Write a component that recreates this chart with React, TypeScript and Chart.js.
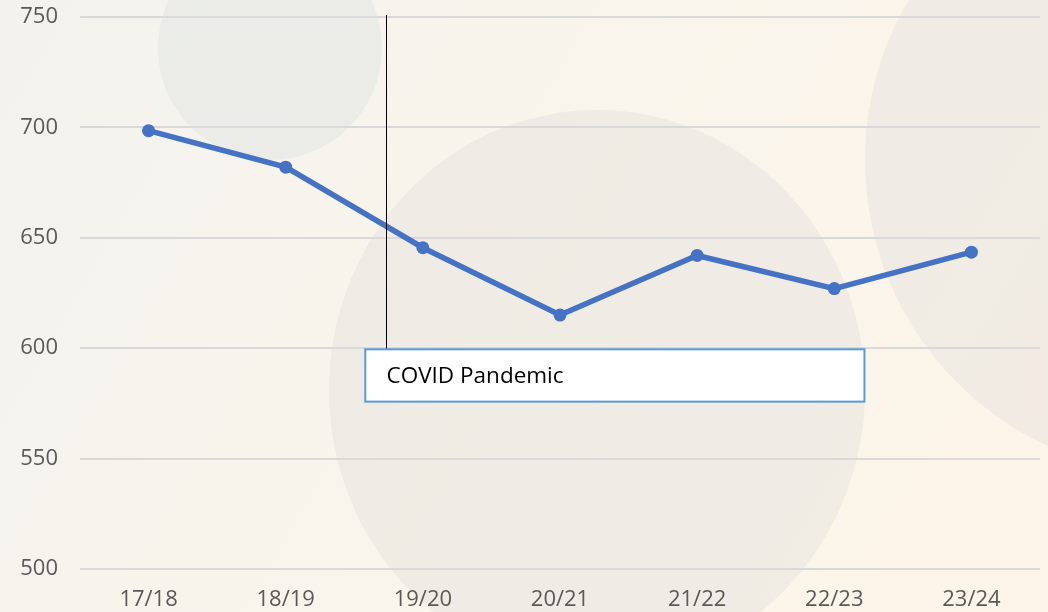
import React, { useEffect, useRef } from "react";
import { Chart, registerables } from "chart.js";

Chart.register(...registerables);

const categories = ["17/18", "18/19", "19/20", "20/21", "21/22", "22/23", "23/24"];
const values = [698.5, 682, 645.5, 615, 642, 627, 643.5];
const yTicks = [500, 550, 600, 650, 700, 750];
const annotationText = "COVID Pandemic";
const annotationIndex = 1.73;
const boxRange = [1.58, 5.22];
const boxValues = [599.5, 575.8];

const FONT = "'Open Sans', 'Noto Sans', sans-serif";

const backgroundPlugin = {
  id: "bgDecor",
  beforeDraw(chart: any) {
    const { ctx, width, height } = chart;
    ctx.save();
    const g = ctx.createLinearGradient(0, 0, width, height);
    g.addColorStop(0, "#f3f2ee");
    g.addColorStop(0.5, "#f9f5ec");
    g.addColorStop(1, "#fdf4e8");
    ctx.fillStyle = g;
    ctx.fillRect(0, 0, width, height);
    ctx.fillStyle = "rgba(225,230,225,0.55)";
    ctx.beginPath();
    ctx.arc(270, 48, 112, 0, Math.PI * 2);
    ctx.fill();
    ctx.fillStyle = "rgba(232,228,222,0.55)";
    ctx.beginPath();
    ctx.ellipse(597, 390, 268, 280, 0, 0, Math.PI * 2);
    ctx.fill();
    ctx.beginPath();
    ctx.arc(1180, 160, 315, 0, Math.PI * 2);
    ctx.fill();
    ctx.restore();
  },
};

const annotationPlugin = {
  id: "covidNote",
  afterDatasetsDraw(chart: any) {
    const { ctx, scales } = chart;
    const x = scales.x, y = scales.y;
    const lx = Math.round(x.getPixelForValue(annotationIndex)) + 0.5;
    const bx0 = x.getPixelForValue(boxRange[0]);
    const bx1 = x.getPixelForValue(boxRange[1]);
    const by0 = y.getPixelForValue(boxValues[0]);
    const by1 = y.getPixelForValue(boxValues[1]);
    ctx.save();
    ctx.strokeStyle = "#000000";
    ctx.lineWidth = 1;
    ctx.beginPath();
    ctx.moveTo(lx, chart.chartArea.top - 2);
    ctx.lineTo(lx, by0);
    ctx.stroke();
    ctx.fillStyle = "#ffffff";
    ctx.fillRect(bx0, by0, bx1 - bx0, by1 - by0);
    ctx.strokeStyle = "#5b9bd5";
    ctx.lineWidth = 2;
    ctx.strokeRect(bx0, by0, bx1 - bx0, by1 - by0);
    ctx.fillStyle = "#000000";
    ctx.font = `22.5px ${FONT}`;
    ctx.textBaseline = "middle";
    ctx.textAlign = "left";
    ctx.fillText(annotationText, lx, (by0 + by1) / 2 + 1);
    ctx.restore();
  },
};

export default function App() {
  const ref = useRef<HTMLCanvasElement>(null);
  useEffect(() => {
    document.body.style.margin = "0";
    const chart = new Chart(ref.current!, {
      type: "line",
      data: {
        labels: categories,
        datasets: [
          {
            data: values,
            borderColor: "#4472c4",
            backgroundColor: "#4472c4",
            borderWidth: 5.5,
            pointRadius: 6.5,
            pointBackgroundColor: "#4472c4",
            pointBorderWidth: 0,
            tension: 0,
          },
        ],
      },
      options: {
        animation: false,
        responsive: false,
        layout: { padding: { top: 17, right: 8, left: 0, bottom: 0 } },
        plugins: { legend: { display: false }, tooltip: { enabled: false } },
        scales: {
          x: {
            offset: true,
            grid: { display: false, drawTicks: false },
            border: { display: false },
            ticks: { color: "#595959", font: { family: FONT, size: 22 }, padding: 18, maxRotation: 0 },
            afterFit(scale: any) {
              scale.height = 43;
              scale.paddingLeft = 0;
              scale.paddingRight = 0;
            },
          },
          y: {
            min: 500,
            max: 750,
            afterBuildTicks(scale: any) {
              scale.ticks = yTicks.map((v) => ({ value: v }));
            },
            afterFit(scale: any) {
              scale.width = 80;
              scale.paddingTop = 0;
              scale.paddingBottom = 0;
            },
            grid: { color: "#d9d9d9", lineWidth: 2, drawTicks: false },
            border: { display: false },
            ticks: { color: "#595959", font: { family: FONT, size: 22 }, padding: 22 },
          },
        },
      },
      plugins: [backgroundPlugin, annotationPlugin],
    });
    return () => chart.destroy();
  }, []);
  return (
    <div style={{ position: "absolute", left: 0, top: 0, width: 1048, height: 612 }}>
      <canvas ref={ref} width={1048} height={612} />
    </div>
  );
}
